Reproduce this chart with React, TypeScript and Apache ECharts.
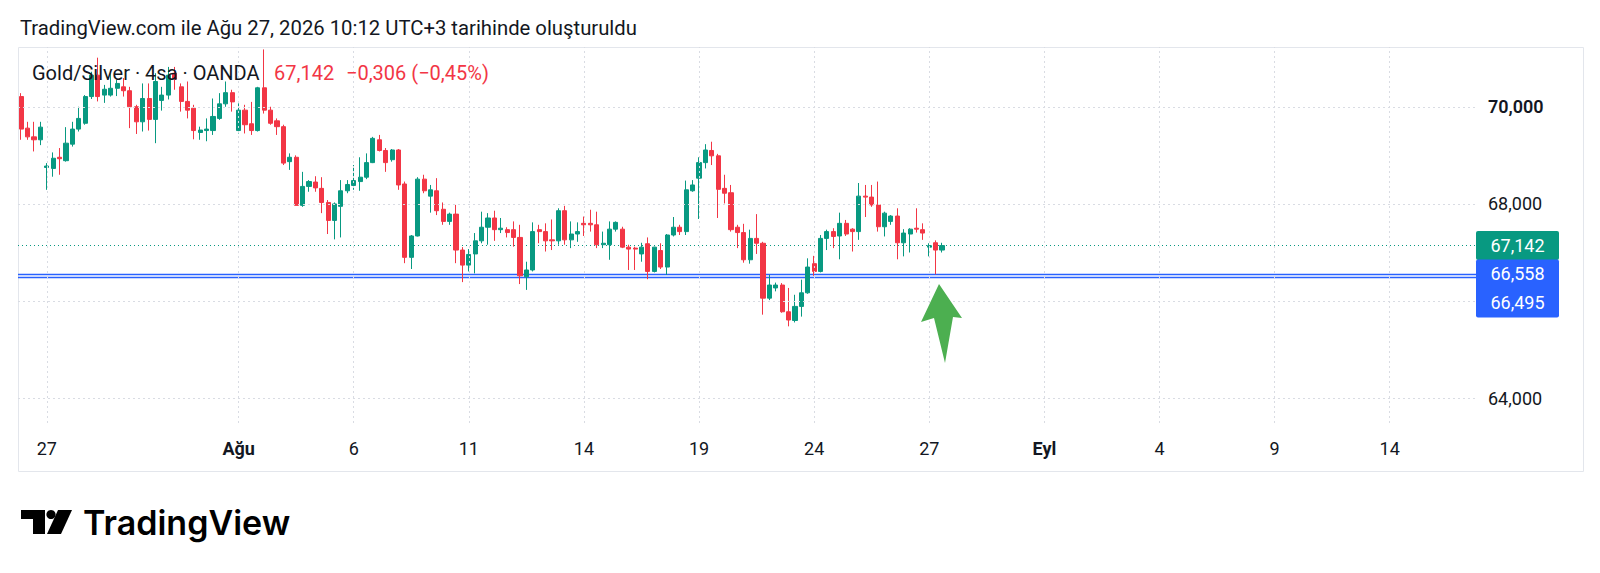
import React, { useEffect, useRef } from 'react';
import * as echarts from 'echarts';

const FONT = 'Roboto, "Noto Sans", sans-serif';
const UP = '#089981';
const DOWN = '#f23645';
const BLUE = '#2962ff';
const TEXT = '#131722';

const TITLE = 'TradingView.com ile Ağu 27, 2026 10:12 UTC+3 tarihinde oluşturuldu';
const SYMBOL = 'Gold/Silver · 4sa · OANDA';
const LAST_TEXT = '67,142';
const CHANGE_TEXT = '−0,306 (−0,45%)';
const BRAND = 'TradingView';

// trading days (4h bars, 6 per day), first day starts at 08:00
const TRADING_DAYS = [
  '07-24', '07-27', '07-28', '07-29', '07-30', '07-31',
  '08-03', '08-04', '08-05', '08-06', '08-07',
  '08-10', '08-11', '08-12', '08-13', '08-14',
  '08-17', '08-18', '08-19', '08-20', '08-21',
  '08-24', '08-25', '08-26', '08-27', '08-28',
  '08-31', '09-01', '09-02', '09-03', '09-04',
  '09-07', '09-08', '09-09', '09-10', '09-11',
  '09-14', '09-15', '09-16',
];
const BAR_HOURS = ['00:00', '04:00', '08:00', '12:00', '16:00', '20:00'];
const SKIP_FIRST = 2;
const SLOT_COUNT = 228;

const TICK_DAYS = ['07-27', '08-03', '08-06', '08-11', '08-14', '08-19', '08-24', '08-27', '09-01', '09-04', '09-09', '09-14'];
const TICK_LABELS = ['27', 'Ağu', '6', '11', '14', '19', '24', '27', 'Eyl', '4', '9', '14'];
const MONTH_TICKS = ['Ağu', 'Eyl'];

const PRICE_TICKS = [64, 68, 70];
const PRICE_GRID = [64, 66, 68, 70];
const PRICE_BOLD = [70];
const Y_MIN = 63.49;
const Y_MAX = 71.23;

const LAST_PRICE = 67.142;
const LEVELS = [66.558, 66.495];

// [open, close, low, high]
const CANDLES: number[][] = [
  [70.21, 69.54, 69.32, 70.28], [69.56, 69.38, 69.32, 69.69], [69.38, 69.32, 69.08, 69.69], [69.32, 69.58, 69.21, 69.69],
  [68.75, 68.78, 68.29, 68.84], [68.73, 68.94, 68.56, 69.06], [68.96, 68.93, 68.60, 69.15], [68.89, 69.25, 68.87, 69.58],
  [69.23, 69.54, 69.18, 69.69], [69.54, 69.76, 69.49, 70.00], [69.66, 70.21, 69.63, 70.24], [70.21, 70.65, 70.16, 70.72],
  [70.65, 70.21, 70.11, 71.01], [70.24, 70.36, 70.08, 70.45], [70.24, 70.38, 70.21, 70.69], [70.38, 70.48, 70.22, 70.55],
  [70.41, 70.33, 70.21, 70.59], [70.33, 70.00, 69.56, 70.41], [70.00, 69.69, 69.44, 70.04], [69.69, 70.17, 69.49, 70.48],
  [70.17, 69.74, 69.51, 70.48], [69.74, 70.52, 69.25, 70.69], [70.13, 70.24, 69.92, 70.41], [70.24, 70.65, 70.15, 70.82],
  [70.69, 70.57, 70.35, 70.82], [70.41, 70.11, 69.90, 70.48], [70.11, 69.93, 69.76, 70.52], [69.97, 69.51, 69.33, 70.04],
  [69.47, 69.52, 69.32, 69.59], [69.51, 69.54, 69.29, 69.76], [69.51, 69.80, 69.42, 70.17], [69.76, 70.06, 69.73, 70.28],
  [70.06, 70.29, 70.00, 70.52], [70.29, 70.10, 69.90, 70.35], [69.51, 69.93, 69.45, 70.07], [69.93, 69.63, 69.45, 70.04],
  [69.65, 69.51, 69.42, 70.10], [69.51, 70.39, 69.49, 70.41], [70.39, 69.93, 69.86, 71.18], [69.93, 69.66, 69.63, 70.00],
  [69.71, 69.59, 69.42, 69.76], [69.59, 68.84, 68.80, 69.63], [68.87, 68.96, 68.70, 69.04], [68.96, 67.97, 67.97, 69.00],
  [67.97, 68.36, 67.94, 68.66], [68.36, 68.46, 68.25, 68.49], [68.45, 68.33, 68.25, 68.57], [68.32, 68.03, 67.81, 68.55],
  [68.03, 67.66, 67.38, 68.08], [67.66, 68.00, 67.27, 68.03], [67.95, 68.27, 67.31, 68.49], [68.27, 68.40, 68.22, 68.49],
  [68.38, 68.48, 68.29, 68.80], [68.46, 68.55, 68.27, 68.96], [68.55, 68.85, 68.51, 69.04], [68.85, 69.35, 68.84, 69.38],
  [69.32, 69.10, 69.08, 69.42], [69.10, 68.85, 68.66, 69.15], [68.91, 69.11, 68.87, 69.13], [69.11, 68.39, 68.29, 69.13],
  [68.41, 66.90, 66.78, 68.46], [66.90, 67.34, 66.66, 67.36], [67.34, 68.51, 67.33, 68.55], [68.51, 68.27, 68.22, 68.60],
  [68.16, 68.29, 67.82, 68.39], [68.27, 67.86, 67.77, 68.53], [67.89, 67.64, 67.57, 68.03], [67.64, 67.79, 67.57, 67.82],
  [67.79, 67.05, 66.78, 67.98], [67.05, 66.74, 66.39, 67.11], [66.74, 66.96, 66.61, 67.07], [66.97, 67.24, 66.57, 67.40],
  [67.24, 67.52, 67.19, 67.84], [67.52, 67.71, 67.16, 67.81], [67.71, 67.47, 67.24, 67.86], [67.47, 67.50, 67.40, 67.71],
  [67.47, 67.41, 67.31, 67.52], [67.47, 67.31, 67.12, 67.64], [67.31, 66.52, 66.35, 67.57], [66.50, 66.64, 66.23, 66.81],
  [66.64, 67.43, 66.61, 67.62], [67.47, 67.43, 67.19, 67.57], [67.43, 67.24, 67.02, 67.60], [67.26, 67.24, 67.05, 67.68],
  [67.24, 67.86, 67.16, 67.91], [67.86, 67.26, 67.16, 67.96], [67.26, 67.38, 67.09, 67.64], [67.38, 67.43, 67.22, 67.62],
  [67.60, 67.57, 67.34, 67.74], [67.60, 67.57, 67.43, 67.88], [67.57, 67.16, 67.09, 67.84], [67.16, 67.19, 67.09, 67.43],
  [67.16, 67.48, 66.85, 67.64], [67.48, 67.62, 67.43, 67.64], [67.48, 67.11, 67.09, 67.53], [67.11, 67.07, 66.64, 67.16],
  [67.09, 67.07, 66.64, 67.12], [66.97, 67.11, 66.81, 67.20], [67.18, 66.61, 66.45, 67.31], [66.61, 67.11, 66.59, 67.12],
  [67.04, 66.70, 66.66, 67.19], [66.70, 67.36, 66.54, 67.38], [67.36, 67.52, 67.33, 67.73], [67.52, 67.43, 67.36, 67.57],
  [67.43, 68.29, 67.36, 68.48], [68.27, 68.39, 68.25, 68.49], [68.53, 68.85, 67.69, 68.96], [68.85, 69.11, 68.73, 69.23],
  [69.10, 68.99, 68.80, 69.28], [68.99, 68.30, 67.71, 69.03], [68.32, 68.22, 68.01, 68.60], [68.23, 67.47, 67.43, 68.39],
  [67.52, 67.41, 67.09, 67.57], [67.41, 66.85, 66.79, 67.59], [66.85, 67.29, 66.77, 67.47], [67.29, 67.19, 66.97, 67.79],
  [67.19, 66.06, 65.72, 67.22], [66.06, 66.33, 66.02, 66.54], [66.27, 66.33, 66.20, 66.38], [66.33, 65.78, 65.76, 66.37],
  [65.78, 65.61, 65.48, 66.27], [65.60, 65.89, 65.56, 66.13], [65.89, 66.17, 65.68, 66.44], [66.17, 66.70, 66.15, 66.88],
  [66.77, 66.61, 66.52, 66.93], [66.61, 67.29, 66.59, 67.36], [67.29, 67.43, 67.05, 67.47], [67.43, 67.33, 67.09, 67.50],
  [67.34, 67.60, 66.86, 67.82], [67.60, 67.38, 67.34, 67.67], [67.48, 67.43, 67.02, 67.50], [67.43, 68.16, 67.26, 68.43],
  [68.16, 68.14, 67.73, 68.39], [68.14, 67.98, 67.94, 68.39], [67.98, 67.53, 67.43, 68.46], [67.53, 67.81, 67.33, 67.84],
  [67.64, 67.75, 67.57, 67.77], [67.75, 67.20, 66.86, 67.91], [67.20, 67.40, 66.92, 67.48], [67.38, 67.48, 67.00, 67.50],
  [67.50, 67.48, 67.41, 67.91], [67.47, 67.40, 67.26, 67.60], [67.11, 67.14, 66.92, 67.19], [67.20, 67.05, 66.55, 67.25],
  [67.05, 67.142, 67.00, 67.20],
];

const fmtPrice = (v: number) => v.toFixed(3).replace('.', ',');

function buildCategories(): string[] {
  const out: string[] = [];
  TRADING_DAYS.forEach((d) => BAR_HOURS.forEach((h) => out.push(`2026-${d} ${h}`)));
  return out.slice(SKIP_FIRST, SKIP_FIRST + SLOT_COUNT);
}

export default function App() {
  const ref = useRef<HTMLDivElement>(null);

  useEffect(() => {
    if (!ref.current) return;
    const chart = echarts.init(ref.current, undefined, { renderer: 'svg' });
    const categories = buildCategories();
    const tickCats = TICK_DAYS.map((d) => `2026-${d} 00:00`);
    const tickMap: Record<string, string> = {};
    tickCats.forEach((c, i) => (tickMap[c] = TICK_LABELS[i]));

    const option: any = {
      animation: false,
      backgroundColor: '#ffffff',
      textStyle: { fontFamily: FONT },
      grid: { left: 18, top: 47, width: 1458, height: 376, containLabel: false },
      xAxis: {
        type: 'category',
        data: categories,
        boundaryGap: true,
        axisLine: { show: false },
        axisTick: { show: false },
        splitLine: { show: false },
        axisLabel: {
          interval: (_i: number, v: string) => v in tickMap,
          formatter: (v: string) => {
            const l = tickMap[v] || '';
            return MONTH_TICKS.includes(l) ? `{b|${l}}` : l;
          },
          color: TEXT,
          fontSize: 18,
          fontFamily: FONT,
          margin: 16,
          rich: { b: { fontWeight: 'bold', fontSize: 18, color: TEXT, fontFamily: FONT } },
        },
      },
      yAxis: {
        type: 'value',
        position: 'right',
        min: Y_MIN,
        max: Y_MAX,
        scale: true,
        axisLine: { show: false },
        axisTick: { show: false },
        splitLine: { show: false },
        axisLabel: {
          customValues: PRICE_TICKS,
          formatter: (v: number) => (PRICE_BOLD.includes(Math.round(v)) ? `{b|${fmtPrice(v)}}` : fmtPrice(v)),
          color: TEXT,
          fontSize: 18,
          fontFamily: FONT,
          margin: 12,
          rich: { b: { fontWeight: 600, fontSize: 18, color: TEXT, fontFamily: FONT } },
        },
      },
      series: [
        {
          type: 'line',
          name: 'grid',
          data: [],
          silent: true,
          z: 1,
          markLine: {
            silent: true,
            symbol: ['none', 'none'],
            label: { show: false },
            lineStyle: { color: '#d9dce3', type: [2, 3], width: 1 },
            data: [
              ...PRICE_GRID.map((v) => ({ yAxis: v })),
              ...tickCats.map((c) => ({ xAxis: c })),
            ],
          },
        },
        {
          type: 'candlestick',
          name: 'Gold/Silver',
          data: CANDLES,
          barWidth: 4.6,
          z: 3,
          itemStyle: { color: UP, color0: DOWN, borderColor: UP, borderColor0: DOWN, borderWidth: 1 },
          markLine: {
            silent: true,
            symbol: ['none', 'none'],
            label: { show: false },
            z: 2,
            data: [
              { yAxis: LAST_PRICE, lineStyle: { color: UP, type: [1, 3], width: 1 } },
              ...LEVELS.map((v) => ({ yAxis: v, lineStyle: { color: BLUE, type: 'solid', width: 1.3 } })),
            ],
          },
        },
      ],
    };
    chart.setOption(option);

    const yOf = (v: number) => chart.convertToPixel({ yAxisIndex: 0 }, v) as number;
    const tagX = 1476;
    const tagW = 83;
    const tagH = 29;
    const yLast = yOf(LAST_PRICE);
    const yL1 = yOf(LEVELS[0]);
    const yL2 = Math.max(yOf(LEVELS[1]), yL1 + tagH);

    const txt = (text: string, x: number, y: number, size: number, fill: string, weight: any = 'normal', align = 'left', family = FONT) => ({
      type: 'text',
      silent: true,
      style: {
        text, x, y, fill,
        fontSize: size, fontFamily: family, fontWeight: weight,
        align, verticalAlign: 'middle', textAlign: align, textVerticalAlign: 'middle',
      },
      z: 100,
    });

    chart.setOption({
      graphic: [
        { type: 'rect', silent: true, shape: { x: 18.5, y: 47.5, width: 1565, height: 424 }, style: { fill: 'none', stroke: '#e3e6ec', lineWidth: 1 }, z: 0 },
        txt(TITLE, 20, 27.5, 20.3, TEXT),
        txt(SYMBOL, 32, 73, 20, TEXT),
        txt(LAST_TEXT, 274, 73, 20, DOWN),
        txt(CHANGE_TEXT, 346, 73, 20, DOWN),
        // price tags
        { type: 'rect', silent: true, z: 90, shape: { x: tagX, y: yLast - tagH / 2, width: tagW, height: tagH, r: 2 }, style: { fill: UP } },
        txt(fmtPrice(LAST_PRICE), tagX + tagW / 2, yLast, 18, '#ffffff', 'normal', 'center'),
        { type: 'rect', silent: true, z: 90, shape: { x: tagX, y: yL1 - tagH / 2, width: tagW, height: yL2 - yL1 + tagH, r: 2 }, style: { fill: BLUE } },
        txt(fmtPrice(LEVELS[0]), tagX + tagW / 2, yL1, 18, '#ffffff', 'normal', 'center'),
        txt(fmtPrice(LEVELS[1]), tagX + tagW / 2, yL2, 18, '#ffffff', 'normal', 'center'),
        // green arrow
        {
          type: 'polygon', silent: true, z: 95,
          shape: { points: [[939, 284], [962, 318], [953, 317], [945, 363], [934, 318], [921, 322]] },
          style: { fill: '#4caf50' },
        },
        // TradingView logo
        { type: 'rect', silent: true, z: 95, shape: { x: 21, y: 510, width: 24, height: 9 }, style: { fill: '#000' } },
        { type: 'rect', silent: true, z: 95, shape: { x: 33, y: 510, width: 12, height: 24 }, style: { fill: '#000' } },
        { type: 'circle', silent: true, z: 95, shape: { cx: 51, cy: 514.5, r: 4.6 }, style: { fill: '#000' } },
        { type: 'polygon', silent: true, z: 95, shape: { points: [[58, 510], [72, 510], [61, 534], [47, 534]] }, style: { fill: '#000' } },
        txt(BRAND, 83, 522, 34, '#000', 600, 'left', 'Inter, Roboto, sans-serif'),
      ],
    });

    return () => chart.dispose();
  }, []);

  return (
    <div
      ref={ref}
      style={{ position: 'fixed', left: 0, top: 0, width: 1600, height: 573, background: '#fff' }}
    />
  );
}
